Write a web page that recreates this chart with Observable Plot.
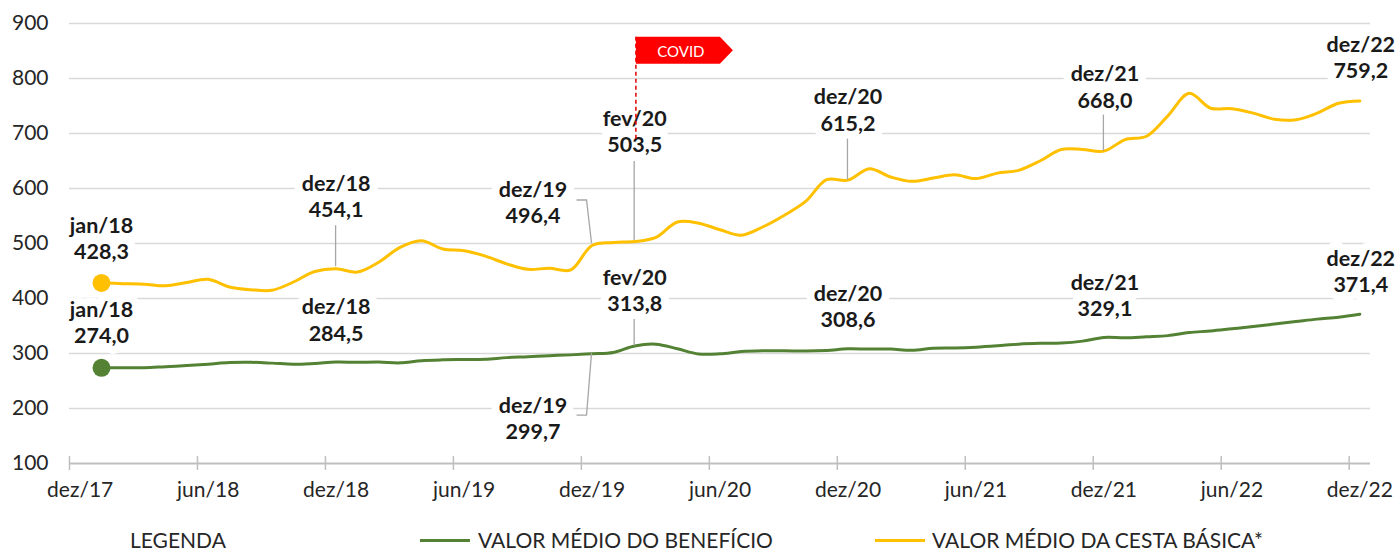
<!DOCTYPE html>
<html><head><meta charset="utf-8">
<script src="https://cdn.jsdelivr.net/npm/d3@7"></script>
<script src="https://cdn.jsdelivr.net/npm/@observablehq/plot@0.6"></script>
<style>
body{margin:0;background:#fff;font-family:Lato,"Noto Sans",sans-serif;}
#wrap{position:relative;width:1397px;height:550px;}
#legend{position:absolute;left:0;top:529px;width:1397px;height:21px;font-size:21px;color:#262626;}
.li{position:absolute;top:0;line-height:21px;white-space:nowrap;}
.sw{position:absolute;top:10px;width:50px;height:3px;}
</style></head><body>
<div id="wrap"><div id="chart"></div><div id="legend"></div></div>
<script>
// ---- data ----
const xTickLabels = ["dez/17","jun/18","dez/18","jun/19","dez/19","jun/20","dez/20","jun/21","dez/21","jun/22","dez/22"];
const yTicks = [100,200,300,400,500,600,700,800,900];
// monthly values jan/18 .. dez/22
const cesta = [428.3,427,426,423,429,435,421,416,415,430,449,454.1,
               448,466,493,505,490,487,477,463,453,455,452,496.4,
               502,503.5,511,539,537,525,515,530,551,576,616,615.2,
               636,621,613,619,625,618,628,633,650,671,671,668.0,
               689,695,732,773,746,745,737,726,725,737,755,759.2];
const beneficio = [274.0,274,274,276,278,280.5,283.5,284,282.5,280.5,282,284.5,
                   284,284.5,283,287,288.5,289,289.5,292.5,294,296,297.5,299.7,
                   302,313.8,317,308.5,299,299.5,303.5,305,305,304.5,305.5,308.6,
                   308,308,306,309.5,310,311.5,314,317,318.5,319,322.5,329.1,
                   328.5,330.5,332.5,338,341,345,349,353.5,358,362.5,366,371.4];
const labelMonths = ["jan/18","dez/18","dez/19","fev/20","dez/20","dez/21","dez/22"];
const labelIndex = [0,11,23,25,35,47,59];
const covidLabel = "COVID";
const covidMonth = 26.58;   // position on the month axis
const covidLineEnd = 684;   // value level where the dashed marker ends
const legendTitle = "LEGENDA";
const seriesNames = ["VALOR MÉDIO DO BENEFÍCIO","VALOR MÉDIO DA CESTA BÁSICA*"];
const colors = {ben:"#548235", ces:"#FFC000"};

// ---- layout (pixel offsets of labels / leaders) ----
const offCes = [[0,-45.5],[0,-73],[-59,-43.5],[0,-111],[0,-71],[1,-65],[1,-44]];
const offBen = [[0,-46],[0,-43],[-59,64],[0,-56.5],[0,-43],[1,-43],[1,-44]];
const leadCes = {1:[[0,-43],[0,-2]], 2:[[-15,-45],[-5,-45],[0,-2]], 3:[[0,-80],[0,-1]], 4:[[0,-41],[0,0]], 5:[[0,-36],[0,0]]};
const leadBen = {2:[[-15,62],[-5,62],[0,0]], 3:[[0,-26.5],[0,0]]};

const xOf = i => i + 1.5;   // mid-month position, axis starts at dez/17
const fmt = v => v.toFixed(1).replace(".", ",");
const ces = cesta.map((v,i)=>({x:xOf(i), v}));
const ben = beneficio.map((v,i)=>({x:xOf(i), v}));
const xTickVals = xTickLabels.map((d,i)=>i*6);

const W = 1397, H = 515;
const labelMarks = [];
labelIndex.forEach((idx,k)=>{
  [[cesta,offCes],[beneficio,offBen]].forEach(([arr,off])=>{
    labelMarks.push(Plot.text([{x:xOf(idx), v:arr[idx], t: labelMonths[k]+"\n"+fmt(arr[idx])}], {
      x:"x", y:"v", text:"t", dx:off[k][0], dy:off[k][1],
      fontSize:21.5, fontWeight:"bold", fill:"#1a1a1a", lineHeight:1.22, lineAnchor:"middle",
      stroke:"white", strokeWidth:16, strokeLinejoin:"round"
    }));
  });
});

const plot = Plot.plot({
  width: W, height: H,
  marginLeft: 69, marginRight: 27, marginTop: 23, marginBottom: H - 463,
  x: {domain: [0, 61], axis: null},
  y: {domain: [100, 900], axis: null},
  style: {fontFamily: "Lato, 'Noto Sans', sans-serif", fontSize: "21px", color: "#262626", background: "white", overflow: "visible"},
  marks: [
    Plot.ruleY(yTicks.filter(d=>d>100), {stroke:"#d9d9d9", strokeWidth:1.5}),
    Plot.ruleY([100], {stroke:"#bfbfbf", strokeWidth:2}),
    Plot.ruleX(xTickVals, {x:d=>d, y1:87.3, y2:112.7, stroke:"#bfbfbf", strokeWidth:1.5}),
    Plot.axisY({ticks: yTicks, label: null, tickSize: 0, tickPadding: 21, fontSize: 21, fill:"#262626"}),
    Plot.axisX({ticks: xTickVals, label: null, tickFormat: d => xTickLabels[Math.round(d/6)], tickSize: 0, tickPadding: 19, dx: 10.7, fontSize: 21, fill:"#262626"}),
    Plot.line(ces, {x:"x", y:"v", stroke:colors.ces, strokeWidth:3, curve:"catmull-rom"}),
    Plot.line(ben, {x:"x", y:"v", stroke:colors.ben, strokeWidth:3, curve:"catmull-rom"}),
    Plot.dot([ces[0]], {x:"x", y:"v", r:9, fill:colors.ces}),
    Plot.dot([ben[0]], {x:"x", y:"v", r:9, fill:colors.ben}),
    ...labelMarks
  ]
});

// leaders and COVID flag, placed through the plot's own scales
const xs = plot.scale("x"), ys = plot.scale("y");
const svg = d3.select(plot);
const g = svg.append("g");
function leaders(arr, spec){
  Object.entries(spec).forEach(([k,pts])=>{
    const idx = labelIndex[+k];
    const px = xs.apply(xOf(idx)), py = ys.apply(arr[idx]);
    g.append("path").attr("d", "M" + pts.map(p=>[px+p[0], py+p[1]].join(",")).join("L"))
     .attr("fill","none").attr("stroke","#a6a6a6").attr("stroke-width",1.3);
  });
}
leaders(cesta, leadCes);
leaders(beneficio, leadBen);

const cx = xs.apply(covidMonth), flagTop = ys.apply(875);
g.append("line").attr("x1",cx).attr("x2",cx).attr("y1",flagTop).attr("y2",ys.apply(covidLineEnd))
 .attr("stroke","#e00000").attr("stroke-width",1.5).attr("stroke-dasharray","4,3");
g.append("path").attr("d",`M${cx},${flagTop}H${cx+84}L${cx+97},${flagTop+13.5}L${cx+84},${flagTop+27}H${cx}Z`).attr("fill","#ff0000");
g.append("text").attr("x",cx+45).attr("y",flagTop+14).attr("dominant-baseline","central").attr("text-anchor","middle")
 .attr("fill","white").attr("font-size",15).text(covidLabel);

document.getElementById("chart").appendChild(plot);

// legend
const lg = document.getElementById("legend");
lg.innerHTML = `<span class="li" style="left:130px">${legendTitle}</span>
<span class="sw" style="left:420px;background:${colors.ben}"></span><span class="li" style="left:478px">${seriesNames[0]}</span>
<span class="sw" style="left:875px;background:${colors.ces}"></span><span class="li" style="left:932px">${seriesNames[1]}</span>`;
</script>
</body></html>
